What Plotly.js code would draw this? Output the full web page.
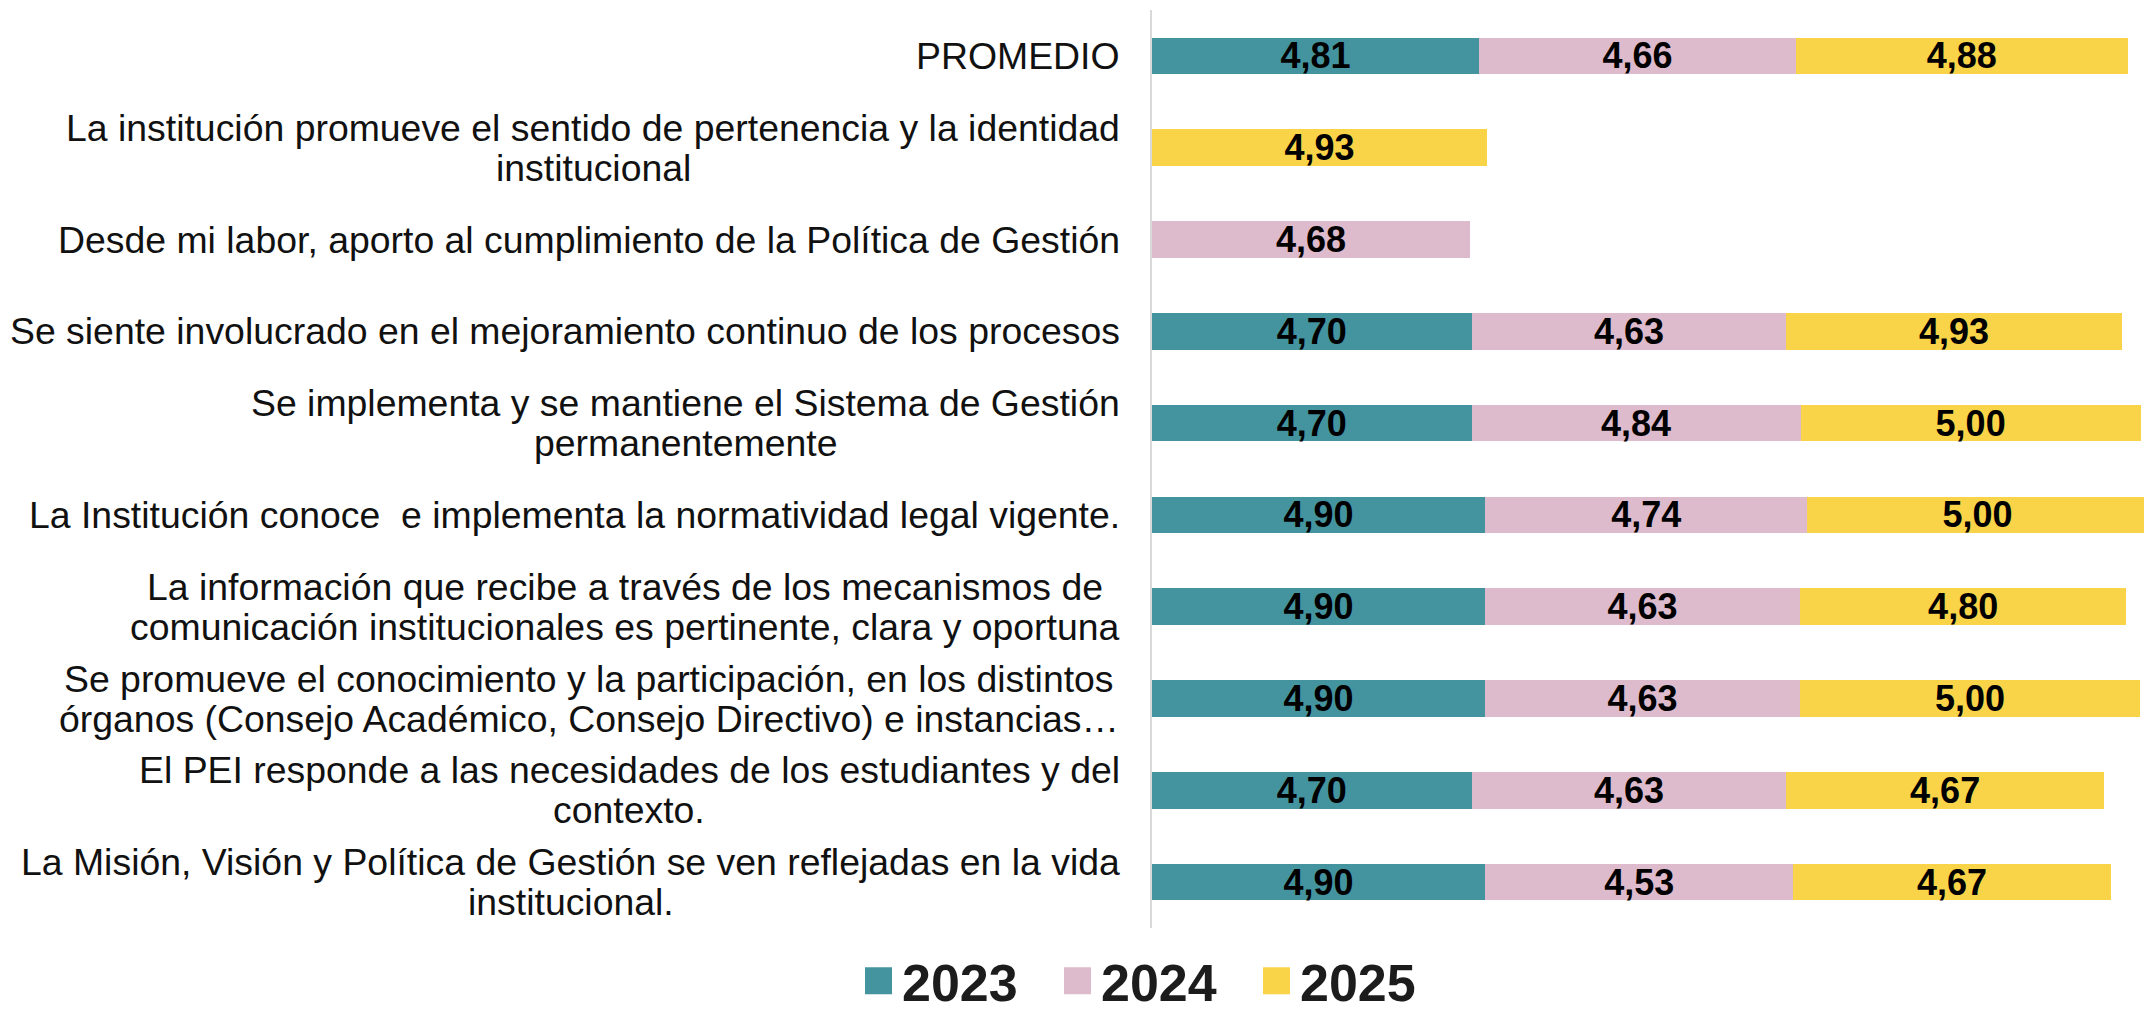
<!DOCTYPE html>
<html>
<head>
<meta charset="utf-8">
<script src="https://cdn.plot.ly/plotly-3.0.1.min.js"></script>
<style>
  html, body { margin: 0; padding: 0; background: #ffffff; }
  #chart { width: 2144px; height: 1015px; }
</style>
</head>
<body>
<div id="chart"></div>
<script>
// ---------- DATA ----------
const categories = [
  "PROMEDIO",
  "La institución promueve el sentido de pertenencia y la identidad\ninstitucional",
  "Desde mi labor, aporto al cumplimiento de la Política de Gestión",
  "Se siente involucrado en el mejoramiento continuo de los procesos",
  "Se implementa y se mantiene el Sistema de Gestión\npermanentemente",
  "La Institución conoce  e implementa la normatividad legal vigente.",
  "La información que recibe a través de los mecanismos de\ncomunicación institucionales es pertinente, clara y oportuna",
  "Se promueve el conocimiento y la participación, en los distintos\nórganos (Consejo Académico, Consejo Directivo) e instancias…",
  "El PEI responde a las necesidades de los estudiantes y del\ncontexto.",
  "La Misión, Visión y Política de Gestión se ven reflejadas en la vida\ninstitucional."
];
const seriesNames = ["2023", "2024", "2025"];
const values2023 = [4.81, null, null, 4.70, 4.70, 4.90, 4.90, 4.90, 4.70, 4.90];
const values2024 = [4.66, null, 4.68, 4.63, 4.84, 4.74, 4.63, 4.63, 4.63, 4.53];
const values2025 = [4.88, 4.93, null, 4.93, 5.00, 5.00, 4.80, 5.00, 4.67, 4.67];

// ---------- STYLE ----------
const colors = ["#4494A0", "#DEBBCC", "#F9D448"];
const FONT = "Liberation Sans, Arial, sans-serif";
const W = 2144, H = 1015;
const M = { l: 1152, r: 0, t: 10, b: 87 };
const plotW = W - M.l - M.r;
const plotH = H - M.t - M.b;
const LABEL_RIGHT = 1120;   // px, right edge of category label block
const LABEL_SIZE = 37.4;
const LINE_GAP = 40;

const yCats = categories.map(c => c.replace(/\n/g, " "));
const seriesValues = [values2023, values2024, values2025];

const data = seriesValues.map((vals, k) => ({
  type: "bar",
  orientation: "h",
  name: seriesNames[k],
  y: yCats,
  x: vals,
  marker: { color: colors[k], line: { width: 0 } },
  texttemplate: "%{x:.2f}",
  textposition: "inside",
  insidetextanchor: "middle",
  constraintext: "none",
  textangle: 0,
  textfont: { family: FONT, size: 36, color: "#000000", weight: "bold" },
  hoverinfo: "skip"
}));

// category labels as annotations (to control line spacing)
const ctx = document.createElement("canvas").getContext("2d");
ctx.font = LABEL_SIZE + "px 'Liberation Sans'";
const annotations = [];
categories.forEach((c, i) => {
  const lines = c.split("\n");
  const widths = lines.map(l => ctx.measureText(l).width);
  const bw = Math.max.apply(null, widths);
  const cx = LABEL_RIGHT - bw / 2;
  lines.forEach((l, j) => {
    annotations.push({
      xref: "paper", yref: "y",
      x: (cx - M.l) / plotW, y: i,
      xanchor: "center", yanchor: "middle",
      text: l, showarrow: false,
      yshift: ((lines.length - 1) / 2 - j) * LINE_GAP,
      font: { family: FONT, size: LABEL_SIZE, color: "#111111" }
    });
  });
});

const layout = {
  width: W, height: H,
  margin: { l: M.l, r: M.r, t: M.t, b: M.b, autoexpand: false },
  paper_bgcolor: "#ffffff",
  plot_bgcolor: "#ffffff",
  barmode: "stack",
  bargap: 0.6,
  separators: ",.",
  showlegend: true,
  legend: {
    orientation: "h",
    x: (855 - M.l) / plotW, xanchor: "left",
    y: -(981 - (H - M.b)) / plotH, yanchor: "middle",
    traceorder: "normal",
    itemwidth: 37,
    entrywidth: 147, entrywidthmode: "pixels",
    font: { family: FONT, size: 52, color: "#1c1c1c", weight: "bold" },
    itemclick: false, itemdoubleclick: false
  },
  xaxis: {
    range: [0, 14.59],
    showgrid: false, zeroline: false, showline: false,
    showticklabels: false, ticks: ""
  },
  yaxis: {
    type: "category",
    autorange: "reversed",
    showgrid: false, zeroline: false,
    showline: true, linecolor: "#D9D9D9", linewidth: 2,
    showticklabels: false, ticks: ""
  },
  annotations: annotations
};

Plotly.newPlot("chart", data, layout, { staticPlot: true, displayModeBar: false }).then(gd => {
  gd.querySelectorAll(".legend .legendpoints path").forEach(p => {
    const t = p.getAttribute("transform") || "";
    p.setAttribute("transform", t + " scale(2.25)");
  });
});
</script>
</body>
</html>
